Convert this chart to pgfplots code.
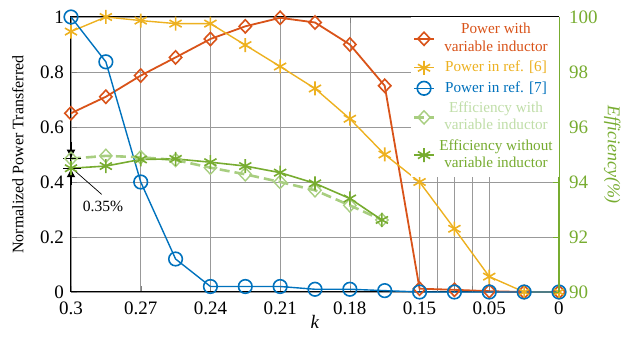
\documentclass[border=0pt]{standalone}
\usepackage{fontspec}
\setmainfont{Liberation Serif}
\usepackage{pgfplots}
\pgfplotsset{compat=1.18}
\usetikzlibrary{arrows.meta}
\definecolor{cor}{RGB}{217,83,25}
\definecolor{cye}{RGB}{237,177,32}
\definecolor{cbl}{RGB}{0,114,189}
\definecolor{cgr}{RGB}{119,172,48}
\definecolor{clg}{RGB}{168,206,128}
\definecolor{clgt}{RGB}{192,222,168}
\begin{document}
\begin{tikzpicture}
\begin{axis}[name=main, scale only axis, width=244pt, height=137.5pt,
  xmin=0, xmax=14, ymin=0, ymax=1,
  xtick={0,2,...,14}, xticklabels={\mbox{0.3},\mbox{0.27},\mbox{0.24},\mbox{0.21},\mbox{0.18},\mbox{0.15},\mbox{0.05},\mbox{0}},
  extra x ticks={10.5,11,11.5}, extra x tick labels={},
  extra x tick style={grid=major},
  ytick={0,0.2,0.4,0.6,0.8,1}, yticklabels={\mbox{0},\mbox{0.2},\mbox{0.4},\mbox{0.6},\mbox{0.8},\mbox{1}},
  grid=major, grid style={gray!80, line width=0.35pt},
  tick align=inside, ytick pos=left, major tick length=3pt,
  axis line style={line width=0.5pt},
  ticklabel style={font=\fontsize{9.5}{11}\selectfont},
  xticklabel style={yshift=-1.5pt},
  ylabel={Normalized Power Transferred},
  ylabel style={at={(axis description cs:-0.109,0.5)}, anchor=center, font=\fontsize{8}{9}\selectfont},
  xlabel={\textit{k}},
  xlabel style={at={(axis description cs:0.5,0)}, yshift=-15pt, anchor=center, font=\fontsize{9.5}{10}\selectfont},
  clip=false]
\addplot[cor, line width=0.9pt, mark=diamond, mark size=3.3pt, mark options={solid, xscale=1.25, line width=0.8pt}]
  coordinates {(0,0.65) (1,0.71) (2,0.787) (3,0.853) (4,0.92) (5,0.966) (6,0.997) (7,0.98) (8,0.90) (9,0.75) (10,0.012) (11,0.008) (12,0.003) (13,0.0) (14,0.0)};
\addplot[cye, line width=0.7pt, mark=asterisk, mark size=3.5pt, mark options={solid, line width=0.8pt}]
  coordinates {(0,0.947) (1,1.0) (2,0.987) (3,0.976) (4,0.976) (5,0.898) (6,0.82) (7,0.74) (8,0.63) (9,0.50) (10,0.40) (11,0.23) (12,0.056) (13,0.0) (14,0.0)};
\addplot[cbl, line width=0.7pt, mark=o, mark size=3.4pt, mark options={solid, line width=0.8pt}]
  coordinates {(0,1.0) (1,0.837) (2,0.40) (3,0.12) (4,0.02) (5,0.02) (6,0.02) (7,0.01) (8,0.01) (9,0.005) (10,0.0) (11,0.0) (12,0.0) (13,0.0) (14,0.0)};
\end{axis}
\begin{axis}[scale only axis, width=244pt, height=137.5pt,
  xmin=0, xmax=14, ymin=90, ymax=100,
  axis x line=none, axis y line*=right,
  ytick={90,92,...,100}, yticklabels={\mbox{90},\mbox{92},\mbox{94},\mbox{96},\mbox{98},\mbox{100}},
  tick align=inside, major tick length=3pt,
  y axis line style={cgr, line width=0.6pt},
  ytick style={cgr},
  yticklabel style={cgr, font=\fontsize{9.5}{11}\selectfont, xshift=1.5pt},
  ylabel={Efficiency(\%)},
  ylabel style={at={(axis description cs:1.109,0.5)}, anchor=center, rotate=180, cgr, font=\fontsize{9}{10}\selectfont\itshape},
  legend style={at={(axis description cs:1.0,1.0)}, anchor=north east, fill=white, draw=none,
    font=\fontsize{7.6}{8.6}\selectfont, cells={align=center}, row sep=-0.6pt, inner sep=1pt},
  legend cell align=center,
  legend image code/.code={\draw[mark repeat=2, mark phase=2] plot coordinates {(0pt,0pt) (5pt,0pt) (10pt,0pt)};},
  clip=false]
\addlegendimage{cor, line width=0.9pt, mark=diamond, mark size=3.3pt, mark options={solid, xscale=1.25, line width=0.8pt}}
\addlegendentry[text=cor]{Power with\\variable inductor}
\addlegendimage{cye, line width=0.7pt, mark=asterisk, mark size=3.5pt, mark options={solid, line width=0.8pt}}
\addlegendentry[text=cye]{Power in ref. [6]}
\addlegendimage{cbl, line width=0.7pt, mark=o, mark size=3.4pt, mark options={solid, line width=0.8pt}}
\addlegendentry[text=cbl]{Power in ref. [7]}
\addplot[clg, line width=1.3pt, dash pattern=on 5pt off 2.5pt, mark=diamond, mark size=3.3pt, mark options={solid, xscale=1.25, line width=0.7pt, clg}]
  coordinates {(0,94.85) (1,94.95) (2,94.9) (3,94.8) (4,94.52) (5,94.28) (6,94.0) (7,93.7) (8,93.15) (8.92,92.62)};
\addlegendentry[text=clgt]{Efficiency with\\variable inductor}
\addplot[cgr, line width=0.8pt, mark=asterisk, mark size=3.5pt, mark options={solid, line width=0.8pt}]
  coordinates {(0,94.5) (1,94.58) (2,94.82) (3,94.84) (4,94.72) (5,94.58) (6,94.34) (7,93.95) (8,93.4) (8.92,92.62)};
\addlegendentry[text=cgr]{Efficiency without\\variable inductor}
% annotation
\draw[line width=0.4pt] (axis cs:-0.22,94.85) -- (axis cs:0.3,94.85);
\draw[line width=0.4pt] (axis cs:-0.22,94.5) -- (axis cs:0.3,94.5);
\draw[line width=0.6pt, -{Latex[length=4.5pt,width=4.5pt]}] (axis cs:0,95.45) -- (axis cs:0,94.85);
\draw[line width=0.6pt, -{Latex[length=4.5pt,width=4.5pt]}] (axis cs:0,93.9) -- (axis cs:0,94.5);
\draw[line width=0.35pt] (axis cs:0.07,94.45) -- (axis cs:0.88,93.55);
\node[font=\fontsize{7.8}{9}\selectfont] at (axis cs:0.92,93.1) {0.35\%};
\end{axis}
\useasboundingbox ([xshift=-35.5pt,yshift=-22.5pt]main.south west) rectangle ([xshift=37pt,yshift=8.5pt]main.north east);
\end{tikzpicture}
\end{document}
